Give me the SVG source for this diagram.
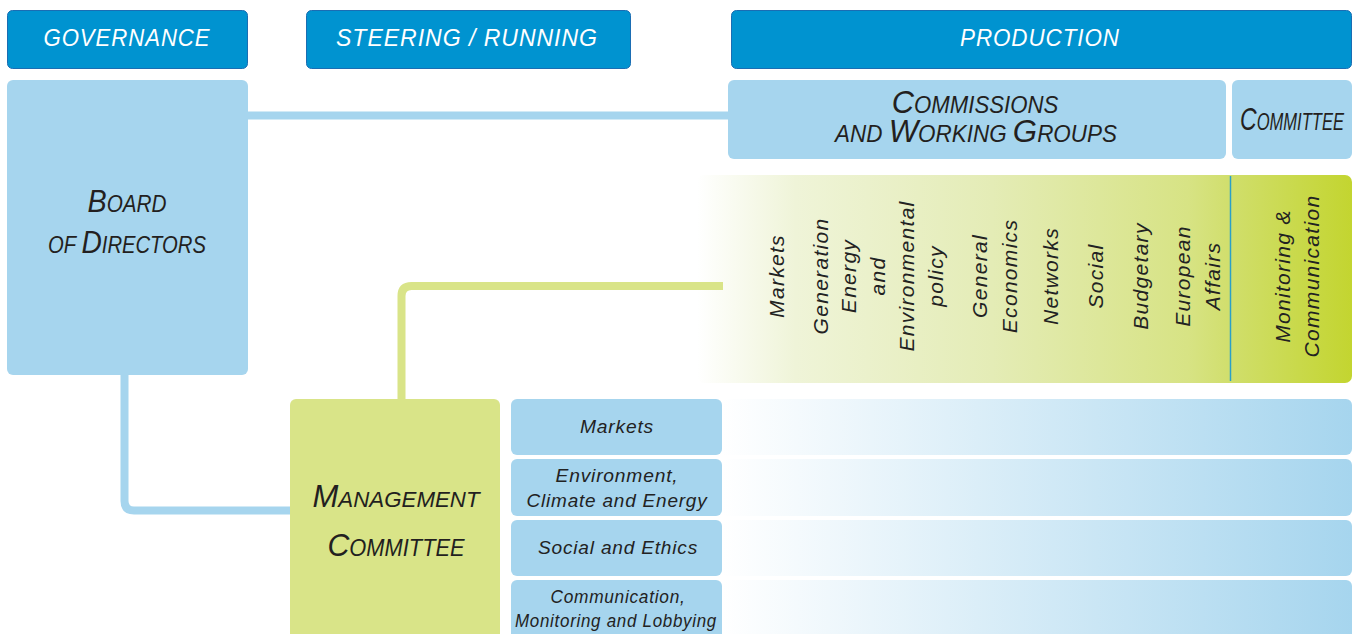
<svg xmlns="http://www.w3.org/2000/svg" width="1354" height="634" viewBox="0 0 1354 634">
<defs>
<style>
.hdr{fill:#0093d0;stroke:#1a6db3;stroke-width:1}
.lb{fill:#a6d5ee}
.gm{fill:#d9e488}
.t{font-family:"Liberation Sans",Arial,sans-serif;font-style:italic;fill:#231f20}
.ht{fill:#fff;font-size:24px;letter-spacing:1px}
.sc{font-size:23px}
.bc{font-size:32px}
.rt{font-size:21px;letter-spacing:1.3px;fill:#222}
.st{font-size:19px;letter-spacing:0.8px;fill:#222}
.conB{fill:none;stroke:#a6d5ee;stroke-width:8}
.conG{fill:none;stroke:#d9e488;stroke-width:8}
</style>
<linearGradient id="gg" x1="697" y1="0" x2="1352" y2="0" gradientUnits="userSpaceOnUse">
<stop offset="0" stop-color="#ffffff"/>
<stop offset="0.15" stop-color="#eff4d8"/>
<stop offset="0.45" stop-color="#e4ecb6"/>
<stop offset="0.75" stop-color="#d7e384"/>
<stop offset="0.82" stop-color="#d0de6a"/>
<stop offset="1" stop-color="#c3d530"/>
</linearGradient>
<linearGradient id="bg" x1="722" y1="0" x2="1352" y2="0" gradientUnits="userSpaceOnUse">
<stop offset="0" stop-color="#ffffff"/>
<stop offset="1" stop-color="#a6d5ee"/>
</linearGradient>
</defs>

<g id="hdr-governance">
<rect class="hdr" x="7.5" y="10.5" width="240" height="58" rx="5"/>
<text class="t ht" x="127" y="46" text-anchor="middle" textLength="167" lengthAdjust="spacingAndGlyphs">GOVERNANCE</text>
</g>
<g id="hdr-steering">
<rect class="hdr" x="306.5" y="10.5" width="324" height="58" rx="5"/>
<text class="t ht" x="467" y="46" text-anchor="middle" textLength="262" lengthAdjust="spacingAndGlyphs">STEERING / RUNNING</text>
</g>
<g id="hdr-production">
<rect class="hdr" x="731.5" y="10.5" width="620" height="58" rx="5"/>
<text class="t ht" x="1040" y="46" text-anchor="middle" textLength="160" lengthAdjust="spacingAndGlyphs">PRODUCTION</text>
</g>

<g id="board">
<rect class="lb" x="7" y="80" width="241" height="295" rx="6"/>
<text class="t sc" transform="translate(127,212) scale(0.9,1)" text-anchor="middle"><tspan class="bc">B</tspan>OARD</text>
<text class="t sc" transform="translate(127,253) scale(0.88,1)" text-anchor="middle">OF <tspan class="bc">D</tspan>IRECTORS</text>
</g>

<g id="commissions">
<rect class="lb" x="728" y="80" width="498" height="79" rx="6"/>
<text class="t sc" transform="translate(975,113) scale(0.965,1)" text-anchor="middle"><tspan class="bc">C</tspan>OMMISSIONS</text>
<text class="t sc" transform="translate(976,142) scale(0.976,1)" text-anchor="middle">AND <tspan class="bc">W</tspan>ORKING <tspan class="bc">G</tspan>ROUPS</text>
</g>

<g id="committee">
<rect class="lb" x="1232" y="80" width="120" height="79" rx="6"/>
<text class="t sc" transform="translate(1292,130) scale(0.72,1)" text-anchor="middle"><tspan class="bc">C</tspan>OMMITTEE</text>
</g>

<g id="commission-list">
<rect x="697" y="175" width="655" height="208" rx="7" fill="url(#gg)"/>
<line x1="1230.5" y1="176" x2="1230.5" y2="381" stroke="#2aa0c8" stroke-width="1.5"/>
<text class="t rt" transform="translate(784,276) rotate(-90)" text-anchor="middle">Markets</text>
<text class="t rt" transform="translate(828,276) rotate(-90)" text-anchor="middle">Generation</text>
<text class="t rt" transform="translate(856,276) rotate(-90)" text-anchor="middle">Energy</text>
<text class="t rt" transform="translate(885,276) rotate(-90)" text-anchor="middle">and</text>
<text class="t rt" transform="translate(914,276) rotate(-90)" text-anchor="middle">Environmental</text>
<text class="t rt" transform="translate(943,276) rotate(-90)" text-anchor="middle">policy</text>
<text class="t rt" transform="translate(987,276) rotate(-90)" text-anchor="middle">General</text>
<text class="t rt" transform="translate(1017,276) rotate(-90)" text-anchor="middle">Economics</text>
<text class="t rt" transform="translate(1058,276) rotate(-90)" text-anchor="middle">Networks</text>
<text class="t rt" transform="translate(1103,276) rotate(-90)" text-anchor="middle">Social</text>
<text class="t rt" transform="translate(1148,276) rotate(-90)" text-anchor="middle">Budgetary</text>
<text class="t rt" transform="translate(1190,276) rotate(-90)" text-anchor="middle">European</text>
<text class="t rt" transform="translate(1220,276) rotate(-90)" text-anchor="middle">Affairs</text>
<text class="t rt" transform="translate(1290,276) rotate(-90)" text-anchor="middle">Monitoring &amp;</text>
<text class="t rt" transform="translate(1319,276) rotate(-90)" text-anchor="middle">Communication</text>
</g>

<g id="management">
<rect class="gm" x="290" y="399" width="210" height="240" rx="6"/>
<text class="t sc" transform="translate(396,507) scale(0.97,1)" text-anchor="middle"><tspan class="bc">M</tspan>ANAGEMENT</text>
<text class="t sc" transform="translate(396,556) scale(0.95,1)" text-anchor="middle"><tspan class="bc">C</tspan>OMMITTEE</text>
</g>

<g id="bars">
<rect x="715" y="399" width="637" height="56" rx="6" fill="url(#bg)"/>
<rect x="715" y="459" width="637" height="57" rx="6" fill="url(#bg)"/>
<rect x="715" y="520" width="637" height="56" rx="6" fill="url(#bg)"/>
<rect x="715" y="580" width="637" height="60" rx="6" fill="url(#bg)"/>
</g>

<g id="wg-markets">
<rect class="lb" x="511" y="399" width="211" height="56" rx="6"/>
<text class="t st" x="617" y="433" text-anchor="middle" textLength="74" lengthAdjust="spacingAndGlyphs">Markets</text>
</g>
<g id="wg-environment">
<rect class="lb" x="511" y="459" width="211" height="57" rx="6"/>
<text class="t st" x="617" y="482" text-anchor="middle" textLength="123" lengthAdjust="spacingAndGlyphs">Environment,</text>
<text class="t st" x="617" y="507" text-anchor="middle" textLength="181" lengthAdjust="spacingAndGlyphs">Climate and Energy</text>
</g>
<g id="wg-social">
<rect class="lb" x="511" y="520" width="211" height="56" rx="6"/>
<text class="t st" x="618" y="554" text-anchor="middle" textLength="160" lengthAdjust="spacingAndGlyphs">Social and Ethics</text>
</g>
<g id="wg-communication">
<rect class="lb" x="511" y="580" width="211" height="60" rx="6"/>
<text class="t st" x="618" y="603" text-anchor="middle" textLength="135" lengthAdjust="spacingAndGlyphs">Communication,</text>
<text class="t st" x="616" y="627" text-anchor="middle" textLength="202" lengthAdjust="spacingAndGlyphs">Monitoring and Lobbying</text>
</g>

<g id="connectors">
<path class="conB" d="M248 115.5 H728"/>
<path class="conB" d="M124.5 375 V501 Q124.5 510.5 134 510.5 H290"/>
<path class="conG" d="M401.5 399 V296 Q401.5 286 411.5 286 H723"/>
</g>
</svg>
